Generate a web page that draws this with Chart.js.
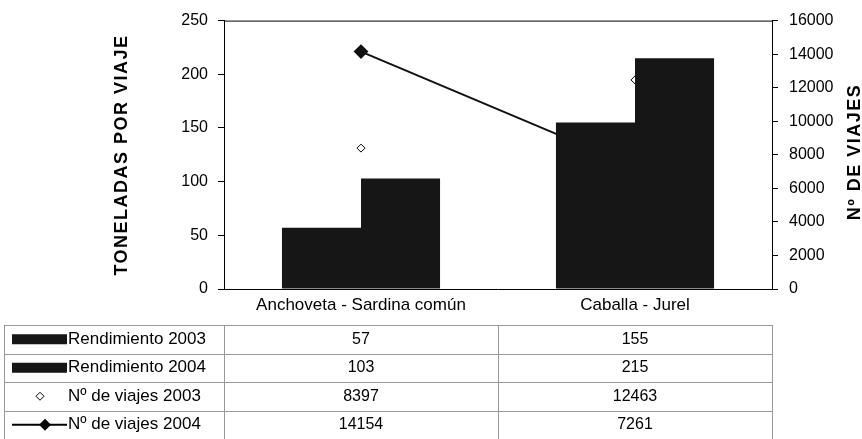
<!DOCTYPE html>
<html>
<head>
<meta charset="utf-8">
<script src="https://cdn.jsdelivr.net/npm/chart.js@4/dist/chart.umd.min.js"></script>
<style>
  html, body { margin: 0; padding: 0; background: #fff; }
  #wrap { width: 862px; height: 439px; }
</style>
</head>
<body>
<div id="wrap"><canvas id="chart" width="862" height="439"></canvas></div>
<script>
// datos del gráfico
const categories = ['Anchoveta - Sardina común', 'Caballa - Jurel'];
const rend2003 = [57, 155];
const rend2004 = [103, 215];
const viajes2003 = [8397, 12463];
const viajes2004 = [14154, 7261];
const seriesNames = ['Rendimiento 2003', 'Rendimiento 2004', 'Nº de viajes 2003', 'Nº de viajes 2004'];
const leftTitle = 'TONELADAS POR VIAJE';
const rightTitle = 'Nº DE VIAJES';

const FONT = '"Liberation Sans", Arial, sans-serif';

// marco, títulos de ejes y tabla de datos
const extrasPlugin = {
    id: 'extras',
    afterDraw(chart) {
        const ctx = chart.ctx;
        const area = chart.chartArea;
        const x = chart.scales.x;
        ctx.save();

        // línea superior del área
        ctx.strokeStyle = '#000';
        ctx.lineWidth = 1;
        ctx.beginPath();
        ctx.moveTo(area.left, area.top + 0.5);
        ctx.lineTo(area.right, area.top + 0.5);
        ctx.stroke();

        // títulos de ejes (girados)
        ctx.fillStyle = '#000';
        ctx.font = 'bold 18px ' + FONT;
        ctx.letterSpacing = '1.5px';
        ctx.textAlign = 'center';
        ctx.textBaseline = 'middle';
        ctx.save();
        ctx.translate(122, 155);
        ctx.rotate(-Math.PI / 2);
        ctx.fillText(leftTitle, 0, 0);
        ctx.restore();
        ctx.save();
        ctx.translate(855, 152);
        ctx.rotate(-Math.PI / 2);
        ctx.fillText(rightTitle, 0, 0);
        ctx.restore();
        ctx.letterSpacing = '0px';

        // tabla de datos
        const rows = [rend2003, rend2004, viajes2003, viajes2004];
        const rowTop = area.bottom + 36;
        const rowH = 28.5;
        const mid = (x.getPixelForValue(0) + x.getPixelForValue(1)) / 2;

        ctx.strokeStyle = '#999';
        ctx.lineWidth = 1;
        ctx.beginPath();
        for (let r = 0; r <= 4; r++) {
            const y = Math.round(rowTop + r * rowH) + 0.5;
            ctx.moveTo(4, y);
            ctx.lineTo(area.right, y);
        }
        [4, area.left, mid, area.right].forEach(vx => {
            const px = Math.round(vx) + 0.5;
            ctx.moveTo(px, rowTop);
            ctx.lineTo(px, rowTop + 4 * rowH);
        });
        ctx.stroke();

        ctx.textBaseline = 'middle';
        rows.forEach((vals, r) => {
            const cy = rowTop + r * rowH + rowH / 2;
            // clave de leyenda
            if (r < 2) {
                ctx.fillStyle = '#161616';
                ctx.fillRect(12, cy - 5, 55, 10);
            } else if (r === 2) {
                ctx.strokeStyle = '#000';
                ctx.fillStyle = '#fff';
                ctx.beginPath();
                ctx.moveTo(40, cy - 4); ctx.lineTo(44, cy); ctx.lineTo(40, cy + 4); ctx.lineTo(36, cy);
                ctx.closePath();
                ctx.fill(); ctx.stroke();
            } else {
                ctx.strokeStyle = '#000';
                ctx.lineWidth = 2;
                ctx.beginPath();
                ctx.moveTo(12, cy); ctx.lineTo(67, cy);
                ctx.stroke();
                ctx.lineWidth = 1;
                ctx.fillStyle = '#000';
                ctx.beginPath();
                ctx.moveTo(45, cy - 6); ctx.lineTo(51, cy); ctx.lineTo(45, cy + 6); ctx.lineTo(39, cy);
                ctx.closePath();
                ctx.fill();
            }
            ctx.fillStyle = '#000';
            ctx.font = '17px ' + FONT;
            ctx.textAlign = 'left';
            ctx.fillText(seriesNames[r], 68, cy);
            ctx.font = '16px ' + FONT;
            ctx.textAlign = 'center';
            vals.forEach((v, i) => {
                ctx.fillText(String(v), x.getPixelForValue(i), cy);
            });
        });
        ctx.restore();
    }
};

const ctx = document.getElementById('chart').getContext('2d');
new Chart(ctx, {
    data: {
        labels: categories,
        datasets: [
            {
                type: 'bar',
                label: seriesNames[0],
                data: rend2003,
                backgroundColor: '#161616',
                borderWidth: 0,
                yAxisID: 'y',
                order: 1,
                categoryPercentage: 0.577,
                barPercentage: 1.0
            },
            {
                type: 'bar',
                label: seriesNames[1],
                data: rend2004,
                backgroundColor: '#161616',
                borderWidth: 0,
                yAxisID: 'y',
                order: 1,
                categoryPercentage: 0.577,
                barPercentage: 1.0
            },
            {
                type: 'line',
                label: seriesNames[2],
                data: viajes2003,
                showLine: false,
                pointStyle: 'rectRot',
                pointRadius: 4,
                borderColor: '#000',
                pointBackgroundColor: '#fff',
                borderWidth: 1,
                yAxisID: 'y1',
                order: 2
            },
            {
                type: 'line',
                label: seriesNames[3],
                data: viajes2004,
                borderColor: '#111',
                borderWidth: 2,
                pointStyle: 'rectRot',
                pointRadius: 6,
                pointBackgroundColor: '#111',
                tension: 0,
                yAxisID: 'y1',
                order: 2
            }
        ]
    },
    options: {
        responsive: false,
        animation: false,
        layout: { padding: { top: 18, left: 0, right: 0, bottom: 0 } },
        plugins: {
            legend: { display: false },
            tooltip: { enabled: false }
        },
        scales: {
            x: {
                grid: { display: false },
                border: { display: true, color: '#000', width: 1 },
                ticks: {
                    color: '#000',
                    font: { family: FONT, size: 17 },
                    padding: -2
                },
                afterFit(scale) { scale.height = 150; }
            },
            y: {
                position: 'left',
                min: 0,
                max: 250,
                ticks: {
                    stepSize: 50,
                    color: '#000',
                    font: { family: FONT, size: 16 },
                    padding: 10
                },
                grid: { drawOnChartArea: false, color: '#000', tickLength: 6 },
                border: { display: true, color: '#000', width: 1 },
                afterFit(scale) { scale.width = 224; }
            },
            y1: {
                position: 'right',
                min: 0,
                max: 16000,
                ticks: {
                    stepSize: 2000,
                    color: '#000',
                    font: { family: FONT, size: 16 },
                    padding: 11,
                    callback: v => String(v)
                },
                grid: { drawOnChartArea: false, color: '#000', tickLength: 6 },
                border: { display: true, color: '#000', width: 1 },
                afterFit(scale) { scale.width = 90; }
            }
        }
    },
    plugins: [extrasPlugin]
});
</script>
</body>
</html>
